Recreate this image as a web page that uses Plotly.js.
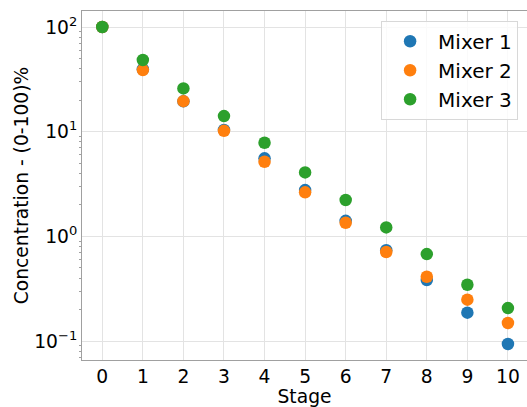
<!DOCTYPE html>
<html>
<head>
<meta charset="utf-8">
<script src="https://cdn.plot.ly/plotly-3.0.1.min.js"></script>
<style>html,body{margin:0;padding:0;background:#fff;}#chart{width:527px;height:407px;}</style>
</head>
<body>
<div id="chart"></div>
<script>
const stages = [0, 1, 2, 3, 4, 5, 6, 7, 8, 9, 10];
const mixer1 = [100, 39.5, 19.5, 10.4, 5.57, 2.77, 1.41, 0.74, 0.383, 0.187, 0.094];
const mixer2 = [100, 38.8, 19.6, 10.2, 5.17, 2.64, 1.35, 0.71, 0.412, 0.249, 0.149];
const mixer3 = [100, 48.4, 25.9, 14.1, 7.85, 4.09, 2.23, 1.22, 0.679, 0.346, 0.207];
const seriesNames = ['Mixer 1', 'Mixer 2', 'Mixer 3'];
const seriesColors = ['#1f77b4', '#ff7f0e', '#2ca02c'];
const yTickVals = [0.1, 1, 10, 100];
const yTickText = ['10<sup>\u22121</sup>', '10<sup>0</sup>', '10<sup>1</sup>', '10<sup>2</sup>'];
const yMinorVals = [0.07, 0.08, 0.09, 0.2, 0.3, 0.4, 0.5, 0.6, 0.7, 0.8, 0.9, 2, 3, 4, 5, 6, 7, 8, 9, 20, 30, 40, 50, 60, 70, 80, 90, 200];

const FONT = 'DejaVu Sans, sans-serif';
const FS = 18.7;
const allSeries = [mixer1, mixer2, mixer3];
const traces = allSeries.map((ys, i) => ({
  x: stages, y: ys, type: 'scatter', mode: 'markers', name: seriesNames[i],
  marker: {color: seriesColors[i], size: 12.5}
}));

const layout = {
  width: 527, height: 407,
  margin: {l: 82, r: 0, t: 11, b: 47},
  paper_bgcolor: '#fff', plot_bgcolor: '#fff',
  font: {family: FONT, size: FS, color: '#000'},
  showlegend: true,
  legend: {
    x: 0.98, y: 0.972, xanchor: 'right', yanchor: 'top',
    bgcolor: 'rgba(255,255,255,0.8)', bordercolor: '#d8d8d8', borderwidth: 1,
    itemwidth: 46,
    font: {family: FONT, size: 20, color: '#000'}
  },
  xaxis: {
    range: [-0.5, 10.47], tickmode: 'array', tickvals: stages,
    showgrid: true, gridcolor: '#e3e3e3', gridwidth: 1,
    showline: true, linecolor: '#a0a0a0', linewidth: 1, mirror: true,
    ticks: '', zeroline: false,
    tickfont: {family: FONT, size: FS, color: '#000'},
    title: {text: 'Stage', font: {family: FONT, size: FS, color: '#000'}, standoff: 4}
  },
  yaxis: {
    type: 'log', range: [-1.18, 2.153],
    tickmode: 'array', tickvals: yTickVals, ticktext: yTickText,
    showgrid: true, gridcolor: '#e3e3e3', gridwidth: 1,
    showline: true, linecolor: '#a0a0a0', linewidth: 1,
    ticks: '', zeroline: false,
    minor: {tickmode: 'array', tickvals: yMinorVals, ticks: 'outside', ticklen: 2, tickcolor: '#a0a0a0', showgrid: false},
    tickfont: {family: FONT, size: FS, color: '#000'},
    title: {text: 'Concentration - (0-100)%', font: {family: FONT, size: FS, color: '#000'}, standoff: 0}
  }
};
Plotly.newPlot('chart', traces, layout, {displayModeBar: false, staticPlot: true});
</script>
</body>
</html>
